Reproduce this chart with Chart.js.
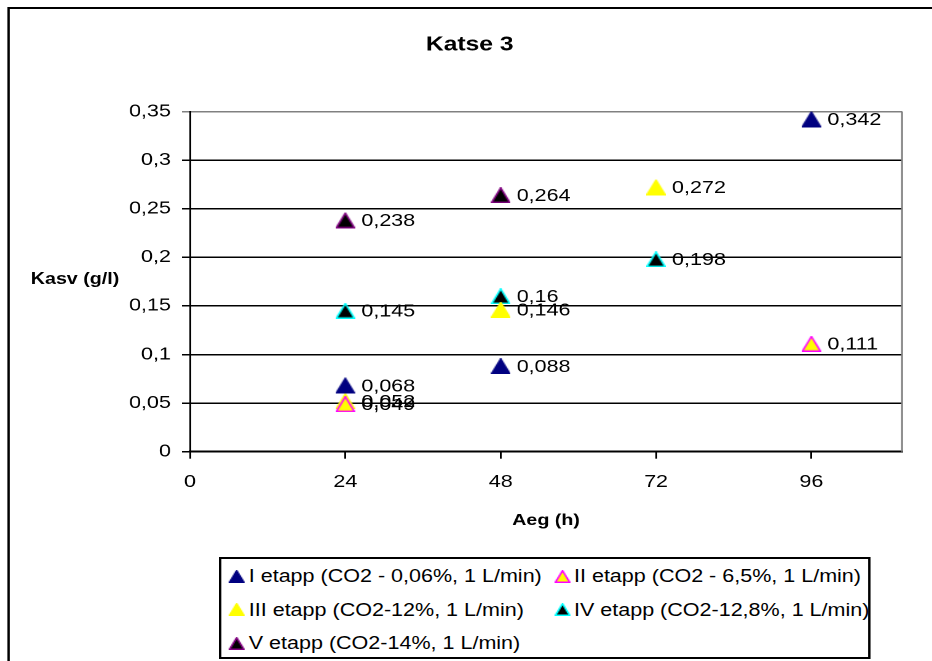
<!DOCTYPE html>
<html><head><meta charset="utf-8">
<script src="https://cdn.jsdelivr.net/npm/chart.js@4"></script>
<style>
html,body{margin:0;padding:0;background:#fff;overflow:hidden;width:932px;height:661px}
#stage{position:absolute;left:0;top:0;width:758px;height:661px;transform:scaleX(1.2296);transform-origin:0 0;font-family:'Liberation Sans',Arial,sans-serif;color:#000}
#frame{position:absolute;left:6px;top:7px;width:900px;height:900px;border:2px solid #000;box-sizing:border-box}
#c{position:absolute;left:0;top:0}
#ytitle{position:absolute;left:25px;top:269px;font-weight:bold;font-size:16px;line-height:20px;white-space:nowrap}
#legend{position:absolute;left:178px;top:557px;width:530px;height:102px;border:2px solid #000;box-sizing:border-box;background:#fff}
.item{position:absolute;font-size:17.5px;line-height:20px;height:20px;white-space:nowrap;display:flex;align-items:center}
.item canvas{margin-right:3px}
</style></head>
<body>
<div id="stage">
  <div id="frame"></div>
  <canvas id="c" width="758" height="661"></canvas>
  <div id="ytitle">Kasv (g/l)</div>
  <div id="legend"></div>
</div>
<script>
// ---- data ----
const xTickValues = [0, 24, 48, 72, 96];
const xTickLabels = ['0', '24', '48', '72', '96'];
const yTickValues = [0, 0.05, 0.1, 0.15, 0.2, 0.25, 0.3, 0.35];
const yTickLabels = ['0', '0,05', '0,1', '0,15', '0,2', '0,25', '0,3', '0,35'];
const seriesNames = [
  'I etapp (CO2 - 0,06%, 1 L/min)',
  'II etapp (CO2 - 6,5%, 1 L/min)',
  'III etapp (CO2-12%, 1 L/min)',
  'IV etapp (CO2-12,8%, 1 L/min)',
  'V etapp (CO2-14%, 1 L/min)'
];
const s1X = [24, 48, 96],  s1Y = [0.068, 0.088, 0.342];
const s2X = [24, 96],      s2Y = [0.049, 0.111];
const s3X = [24, 48, 72],  s3Y = [0.052, 0.146, 0.272];
const s4X = [24, 48, 72],  s4Y = [0.145, 0.16, 0.198];
const s5X = [24, 48],      s5Y = [0.238, 0.264];
const fills   = ['#000080', '#FFFF00', '#FFFF00', '#000000', '#000000'];
const strokes = ['#000080', '#FF00FF', '#FFFF00', '#00FFFF', '#800080'];

// ---- helpers ----
function tri(w, h, fill, stroke, lw) {
  const c = document.createElement('canvas');
  c.width = w; c.height = h;
  const g = c.getContext('2d');
  g.beginPath();
  g.moveTo(w / 2, lw / 2);
  g.lineTo(w - lw / 2, h - lw / 2);
  g.lineTo(lw / 2, h - lw / 2);
  g.closePath();
  g.fillStyle = fill; g.fill();
  g.lineWidth = lw; g.strokeStyle = stroke; g.stroke();
  return c;
}
function fmt(v) { return String(v).replace('.', ','); }
function pts(xs, ys) { return xs.map((x, i) => ({x: x, y: ys[i]})); }

const seriesX = [s1X, s2X, s3X, s4X, s5X];
const seriesY = [s1Y, s2Y, s3Y, s4Y, s5Y];

const datasets = seriesNames.map((name, i) => ({
  label: name,
  data: pts(seriesX[i], seriesY[i]),
  showLine: false,
  pointStyle: tri(16, 16, fills[i], strokes[i], 1.5),
  pointRadius: 8,
  backgroundColor: fills[i],
  borderColor: strokes[i]
}));

// ---- legend (HTML) ----
const legendPos = [[6.3, 7], [270.8, 7], [6.3, 40.5], [270.8, 40.5], [6.3, 74]];
const legend = document.getElementById('legend');
seriesNames.forEach((name, i) => {
  const d = document.createElement('div');
  d.className = 'item';
  d.style.left = legendPos[i][0] + 'px';
  d.style.top = legendPos[i][1] + 'px';
  d.appendChild(tri(13, 13, fills[i], strokes[i], 1.5));
  const s = document.createElement('span');
  s.textContent = name;
  d.appendChild(s);
  legend.appendChild(d);
});

// ---- plugins ----
const labelPlugin = {
  id: 'dataLabels',
  afterDatasetsDraw(chart) {
    const ctx = chart.ctx;
    ctx.save();
    ctx.font = '17.5px "Liberation Sans", Arial, sans-serif';
    ctx.fillStyle = '#000';
    ctx.textBaseline = 'middle';
    ctx.textAlign = 'left';
    chart.data.datasets.forEach((ds, i) => {
      chart.getDatasetMeta(i).data.forEach((el, j) => {
        ctx.fillText(fmt(ds.data[j].y), el.x + 13, el.y + 1);
      });
    });
    ctx.restore();
  }
};
const borderPlugin = {
  id: 'plotBorder',
  beforeDatasetsDraw(chart) {
    const a = chart.chartArea, ctx = chart.ctx;
    ctx.save();
    ctx.strokeStyle = '#808080';
    ctx.lineWidth = 1.5;
    ctx.beginPath();
    ctx.moveTo(a.right, a.top);
    ctx.lineTo(a.right, a.bottom);
    ctx.stroke();
    ctx.restore();
  }
};

Chart.defaults.font.family = "'Liberation Sans', Arial, sans-serif";
Chart.defaults.color = '#000';

new Chart(document.getElementById('c'), {
  type: 'scatter',
  data: { datasets: datasets },
  plugins: [labelPlugin, borderPlugin],
  options: {
    responsive: false,
    animation: false,
    devicePixelRatio: 2,
    events: [],
    layout: { padding: { left: 30.4, right: 24.4, top: 0, bottom: 0 } },
    plugins: {
      legend: { display: false },
      tooltip: { enabled: false },
      title: {
        display: true, text: 'Katse 3', color: '#000',
        font: { size: 20, weight: 'bold' },
        padding: { top: 33, bottom: 54.5 }
      }
    },
    scales: {
      x: {
        type: 'linear', min: 0, max: 110,
        afterBuildTicks: s => { s.ticks = xTickValues.map(v => ({ value: v })); },
        afterFit: s => { s.height = 209.3; },
        ticks: { callback: (v, i) => xTickLabels[i], font: { size: 17.5 }, color: '#000', padding: 13, maxRotation: 0, autoSkip: false },
        grid: { drawOnChartArea: false, drawTicks: true, tickLength: 7, color: '#000', lineWidth: 1.5 },
        border: { color: '#000', width: 2 },
        title: { display: true, text: 'Aeg (h)', color: '#000', font: { size: 16, weight: 'bold' }, padding: { top: 0, bottom: 131 } }
      },
      y: {
        type: 'linear', min: 0, max: 0.35,
        afterBuildTicks: s => { s.ticks = yTickValues.map(v => ({ value: v })); },
        afterFit: s => { s.width = 124.1; },
        ticks: { callback: (v, i) => yTickLabels[i], font: { size: 17.5 }, color: '#000', padding: 9, autoSkip: false },
        grid: {
          color: c => (c.tick && c.tick.value === 0.35) ? '#808080' : '#000',
          lineWidth: 1.5, tickLength: 6.5
        },
        border: { color: '#000', width: 1.5 }
      }
    }
  }
});
</script>
</body></html>
